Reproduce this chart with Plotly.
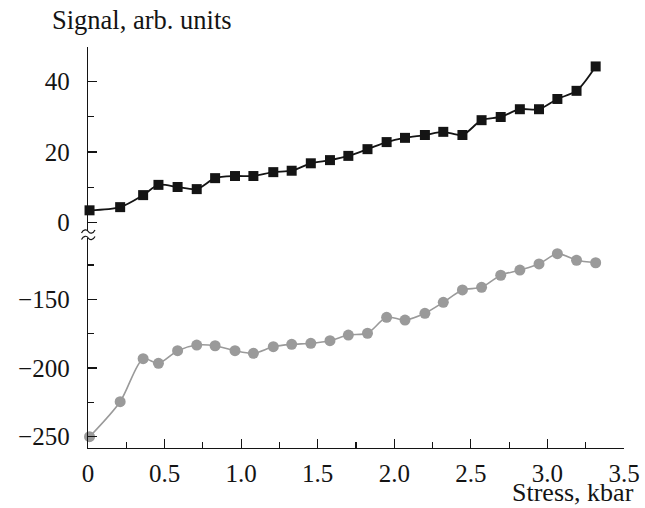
import plotly.graph_objects as go

# ---------------- data ----------------
stress = [0.01, 0.21, 0.36, 0.46, 0.585, 0.71, 0.83, 0.96, 1.08, 1.21, 1.33, 1.455,
          1.58, 1.70, 1.825, 1.95, 2.07, 2.20, 2.32, 2.445, 2.57, 2.695, 2.82, 2.945,
          3.065, 3.19, 3.315]
signal_upper = [3.5, 4.4, 7.8, 10.7, 10.1, 9.5, 12.6, 13.2, 13.2, 14.3, 14.7, 16.8,
                17.7, 18.9, 20.8, 22.8, 24.0, 24.8, 25.7, 24.8, 29.0, 29.9, 32.1, 32.1,
                35.0, 37.3, 44.2]
signal_lower = [-250, -224.5, -193.2, -196.6, -187.4, -183.3, -183.8, -187.4, -189.3,
                -184.5, -182.8, -182.0, -180.1, -176.0, -174.7, -163.1, -165.1, -160.2,
                -152.2, -143.2, -141.3, -132.5, -128.7, -124.3, -116.8, -121.6, -123.4]

x_tickvals = [0, 0.5, 1.0, 1.5, 2.0, 2.5, 3.0, 3.5]
x_ticktext = ["0", "0.5", "1.0", "1.5", "2.0", "2.5", "3.0", "3.5"]
upper_tickvals = [0, 20, 40]
lower_tickvals = [-250, -200, -150]

x_title = "Stress, kbar"
y_title = "Signal, arb. units"

# ---------------- layout geometry ----------------
W, H = 645, 508
L, R, T, B = 88, 21, 47, 60
PW, PH = W - L - R, H - T - B

def px_x(p):
    return (p - L) / PW

def px_y(p):
    return (H - B - p) / PH

FONT = "Liberation Serif"
INK = "#141414"

fig = go.Figure()

fig.add_trace(go.Scatter(
    x=stress, y=signal_upper, xaxis="x", yaxis="y2", mode="lines+markers",
    line=dict(color=INK, width=1.8, shape="spline", smoothing=0.8),
    marker=dict(symbol="square", size=10, color=INK),
    showlegend=False, cliponaxis=False))

fig.add_trace(go.Scatter(
    x=stress, y=signal_lower, xaxis="x", yaxis="y", mode="lines+markers",
    line=dict(color="#9a9a9a", width=1.6, shape="spline", smoothing=0.8),
    marker=dict(symbol="circle", size=11, color="#9a9a9a"),
    showlegend=False, cliponaxis=False))

axis_common = dict(showgrid=False, zeroline=False, showline=True, linecolor=INK,
                   linewidth=1.3, ticks="inside", ticklen=9, tickwidth=1.2,
                   tickcolor=INK, automargin=False,
                   tickfont=dict(family=FONT, size=25, color=INK))

fig.update_layout(
    width=W, height=H, margin=dict(l=L, r=R, t=T, b=B),
    plot_bgcolor="white", paper_bgcolor="white",
    xaxis=dict(range=[0, 3.5], tickvals=x_tickvals, ticktext=x_ticktext,
               anchor="y", domain=[0, 1], ticklabelstandoff=3,
               minor=dict(ticks="inside", ticklen=6, dtick=0.25, tick0=0,
                          tickcolor=INK, tickwidth=1.2),
               **axis_common),
    yaxis=dict(range=[-258.2, -105.4], tickvals=lower_tickvals,
               domain=[0, px_y(238)], anchor="x", ticklabelstandoff=12,
               minor=dict(ticks="inside", ticklen=6, dtick=25, tick0=-250,
                          tickcolor=INK, tickwidth=1.2),
               **axis_common),
    yaxis2=dict(range=[-2.35, 49.7], tickvals=upper_tickvals,
                domain=[px_y(231), 1], anchor="x", ticklabelstandoff=12,
                minor=dict(ticks="inside", ticklen=6, dtick=10, tick0=0,
                           tickcolor=INK, tickwidth=1.2),
                **axis_common),
)

# axis titles
fig.add_annotation(text=y_title, xref="paper", yref="paper", x=px_x(50), y=px_y(3),
                   xanchor="left", yanchor="top", showarrow=False,
                   font=dict(family=FONT, size=26.5, color=INK))
fig.add_annotation(text=x_title, xref="paper", yref="paper", x=px_x(635), y=px_y(508),
                   xanchor="right", yanchor="bottom", showarrow=False, borderpad=0,
                   font=dict(family=FONT, size=26, color=INK))

# axis-break squiggles
def squiggle(cy):
    x0, x1 = 81.5, 95
    xm = (x0 + x1) / 2
    pts = [(x0, cy + 1.5), (x0 + 2, cy - 2.5), (xm - 1.5, cy - 2.5), (xm, cy),
           (xm + 1.5, cy + 2.5), (x1 - 2, cy + 2.5), (x1, cy - 1.5)]
    def P(p):
        return f"{px_x(p[0]):.5f},{px_y(p[1]):.5f}"
    return (f"M {P(pts[0])} C {P(pts[1])} {P(pts[2])} {P(pts[3])} "
            f"C {P(pts[4])} {P(pts[5])} {P(pts[6])}")

for cy in (231.5, 238.0):
    fig.add_shape(type="path", xref="paper", yref="paper", path=squiggle(cy),
                  line=dict(color=INK, width=1.2))

fig.write_html("out.html",
               config={"displayModeBar": False, "staticPlot": True},
               post_script="document.body.style.margin='0px';"
                           "document.body.style.overflow='hidden';")
